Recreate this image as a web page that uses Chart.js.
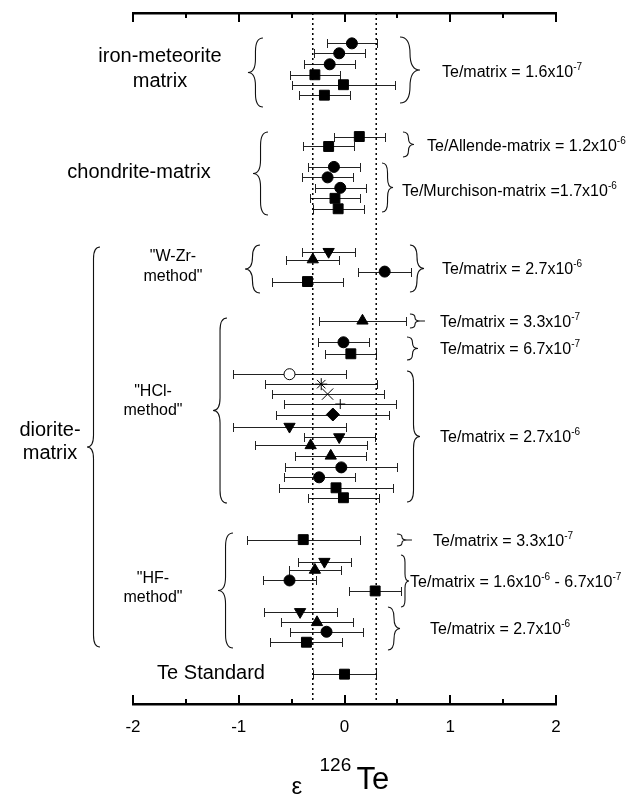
<!DOCTYPE html>
<html>
<head>
<meta charset="utf-8">
<script src="https://cdn.jsdelivr.net/npm/chart.js@4.4.0/dist/chart.umd.min.js"></script>
<style>
html, body { margin: 0; padding: 0; background: #fff; }
#wrap { width: 642px; height: 796px; }
</style>
</head>
<body>
<div id="wrap"><canvas id="grafico" width="642" height="796"></canvas></div>
<script>
// one entry per measurement, top to bottom (row = vertical slot on the hidden y scale)
const rowPos = [2.9, 3.85, 4.9, 5.9, 6.85, 7.85,
                11.8, 12.75, 14.7, 15.7, 16.7, 17.7, 18.7,
                22.8, 23.55, 24.7, 25.65,
                29.4, 31.45, 32.55, 34.5, 35.45, 36.4, 37.35, 38.35, 39.5, 40.5, 41.3, 42.3, 43.4, 44.35, 45.35, 46.3,
                50.3, 52.4, 53.2, 54.2, 55.2, 57.2, 58.2, 59.1, 60.1,
                63.15];
const epsilon = [0.07, -0.05, -0.14, -0.28, -0.01, -0.19,
                 0.14, -0.15, -0.10, -0.16, -0.04, -0.09, -0.06,
                 -0.15, -0.30, 0.38, -0.35,
                 0.17, -0.01, 0.06, -0.52, -0.22, -0.16, -0.04, -0.11, -0.52, -0.05, -0.32, -0.13, -0.03, -0.24, -0.08, -0.01,
                 -0.39, -0.19, -0.28, -0.52, 0.29, -0.42, -0.26, -0.17, -0.36,
                 0.0];
const epsErr = [0.24, 0.24, 0.24, 0.24, 0.49, 0.24,
                0.24, 0.24, 0.245, 0.24, 0.24, 0.24, 0.24,
                0.25, 0.25, 0.25, 0.34,
                0.41, 0.24, 0.24, 0.53, 0.53, 0.53, 0.53, 0.535, 0.53, 0.335, 0.53, 0.335, 0.53, 0.335, 0.535, 0.335,
                0.535, 0.25, 0.245, 0.25, 0.245, 0.345, 0.34, 0.345, 0.34,
                0.30];
const markers = ['circle', 'circle', 'circle', 'square', 'square', 'square',
                 'square', 'square', 'circle', 'circle', 'circle', 'square', 'square',
                 'down', 'up', 'circle', 'square',
                 'up', 'circle', 'square', 'open', 'star', 'cross', 'plus', 'diamond', 'down', 'down', 'up', 'up', 'circle', 'circle', 'square', 'square',
                 'square', 'down', 'up', 'circle', 'square', 'down', 'up', 'circle', 'square',
                 'square'];
const refLines = [-0.3, 0.3];
const xMin = -2, xMax = 2, xStep = 1;
const rowMin = 0, rowMax = 66;

// group names on the left (x in epsilon units, y in row units)
const leftLabels = [
    { text: 'iron-meteorite', x: -1.745, y: 4.2, size: 20 },
    { text: 'matrix', x: -1.745, y: 6.5, size: 20 },
    { text: 'chondrite-matrix', x: -1.943, y: 15.28, size: 20 },
    { text: '"W-Zr-', x: -1.622, y: 23.3, size: 16 },
    { text: 'method"', x: -1.622, y: 25.2, size: 16 },
    { text: '"HCl-', x: -1.811, y: 36.2, size: 16 },
    { text: 'method"', x: -1.811, y: 38.0, size: 16 },
    { text: '"HF-', x: -1.811, y: 54.06, size: 16 },
    { text: 'method"', x: -1.811, y: 55.87, size: 16 },
    { text: 'diorite-', x: -2.785, y: 39.92, size: 20 },
    { text: 'matrix', x: -2.785, y: 42.12, size: 20 },
    { text: 'Te Standard', x: -1.262, y: 63.13, size: 20 }
];

// Te/matrix notes on the right (left edge x, middle y); second item of each part = superscript
const rightLabels = [
    { x: 0.922, y: 5.54, parts: [['Te/matrix = 1.6x10', 0], ['-7', 1]] },
    { x: 0.780, y: 12.61, parts: [['Te/Allende-matrix = 1.2x10', 0], ['-6', 1]] },
    { x: 0.544, y: 16.91, parts: [['Te/Murchison-matrix =1.7x10', 0], ['-6', 1]] },
    { x: 0.922, y: 24.36, parts: [['Te/matrix = 2.7x10', 0], ['-6', 1]] },
    { x: 0.903, y: 29.42, parts: [['Te/matrix = 3.3x10', 0], ['-7', 1]] },
    { x: 0.903, y: 32.0, parts: [['Te/matrix = 6.7x10', 0], ['-7', 1]] },
    { x: 0.903, y: 40.4, parts: [['Te/matrix = 2.7x10', 0], ['-6', 1]] },
    { x: 0.837, y: 50.33, parts: [['Te/matrix = 3.3x10', 0], ['-7', 1]] },
    { x: 0.620, y: 54.25, parts: [['Te/matrix = 1.6x10', 0], ['-6', 1], [' - 6.7x10', 0], ['-7', 1]] },
    { x: 0.809, y: 58.74, parts: [['Te/matrix = 2.7x10', 0], ['-6', 1]] }
];

// curly braces: back = flat side, tip = pointed side
const braces = [
    { back: -0.771, tip: -0.913, top: 2.39, bottom: 8.98 },
    { back: -0.723, tip: -0.865, top: 11.37, bottom: 19.29 },
    { back: -0.799, tip: -0.941, top: 22.16, bottom: 26.74 },
    { back: -1.111, tip: -1.243, top: 29.13, bottom: 46.8 },
    { back: -1.054, tip: -1.196, top: 49.67, bottom: 60.65 },
    { back: -2.312, tip: -2.435, top: 22.35, bottom: 60.55 },
    { back: 0.525, tip: 0.714, top: 2.29, bottom: 8.6 },
    { back: 0.553, tip: 0.657, top: 11.37, bottom: 13.75 },
    { back: 0.355, tip: 0.459, top: 14.33, bottom: 19.01 },
    { back: 0.619, tip: 0.752, top: 22.16, bottom: 26.65 },
    { back: 0.619, tip: 0.714, top: 28.75, bottom: 30.09, tail: 0.761 },
    { back: 0.591, tip: 0.695, top: 30.95, bottom: 33.14 },
    { back: 0.591, tip: 0.714, top: 34.19, bottom: 46.7 },
    { back: 0.496, tip: 0.591, top: 49.76, bottom: 50.91, tail: 0.638 },
    { back: 0.534, tip: 0.610, top: 51.77, bottom: 56.73 },
    { back: 0.411, tip: 0.525, top: 56.73, bottom: 60.84 }
];

const FONTE = '"Liberation Sans", Arial, Helvetica, sans-serif';

const estilos = {
    circle:  { style: 'circle',   radius: 5.5, rotation: 0,   fill: '#000' },
    square:  { style: 'rect',     radius: 7,   rotation: 0,   fill: '#000' },
    up:      { style: 'triangle', radius: 6.5, rotation: 0,   fill: '#000' },
    down:    { style: 'triangle', radius: 6.5, rotation: 180, fill: '#000' },
    diamond: { style: 'rectRot',  radius: 6.5, rotation: 0,   fill: '#000' },
    open:    { style: 'circle',   radius: 5.5, rotation: 0,   fill: '#fff' },
    star:    { style: 'star',     radius: 6,   rotation: 0,   fill: '#000' },
    cross:   { style: 'crossRot', radius: 8,   rotation: 0,   fill: '#000' },
    plus:    { style: 'cross',    radius: 5,   rotation: 0,   fill: '#000' }
};

// draws a curly brace between yTop and yBot, pointing from xBack to xTip
function chave(ctx, xBack, xTip, yTop, yBot, xTail) {
    const w = xTip - xBack;
    const meio = xBack + w / 2;
    const ym = (yTop + yBot) / 2;
    const c = Math.min(Math.abs(w) * 0.9, (yBot - yTop) / 4);
    ctx.beginPath();
    ctx.moveTo(xBack, yTop);
    ctx.quadraticCurveTo(meio, yTop, meio, yTop + c);
    ctx.lineTo(meio, ym - c);
    ctx.quadraticCurveTo(meio, ym, xTip, ym);
    ctx.quadraticCurveTo(meio, ym, meio, ym + c);
    ctx.lineTo(meio, yBot - c);
    ctx.quadraticCurveTo(meio, yBot, xBack, yBot);
    if (xTail !== undefined) {
        ctx.moveTo(xTip, ym);
        ctx.lineTo(xTail, ym);
    }
    ctx.stroke();
}

// text with superscript pieces, left aligned, y = middle of the line
function textoSobrescrito(ctx, x, y, parts, size) {
    const base = y + size * 0.36;
    ctx.textBaseline = 'alphabetic';
    ctx.textAlign = 'left';
    parts.forEach(([txt, sup]) => {
        const s = sup ? Math.round(size * 0.62) : size;
        ctx.font = s + 'px ' + FONTE;
        ctx.fillText(txt, x, sup ? base - size * 0.42 : base);
        x += ctx.measureText(txt).width;
    });
}

const barrasErro = {
    id: 'barrasErro',
    beforeDatasetsDraw(chart) {
        const { ctx, scales: { x, y } } = chart;
        ctx.save();
        ctx.strokeStyle = '#222';
        ctx.lineWidth = 1;
        rowPos.forEach((r, i) => {
            const py = Math.round(y.getPixelForValue(r)) + 0.5;
            const x1 = Math.round(x.getPixelForValue(epsilon[i] - epsErr[i])) + 0.5;
            const x2 = Math.round(x.getPixelForValue(epsilon[i] + epsErr[i])) + 0.5;
            ctx.beginPath();
            ctx.moveTo(x1, py); ctx.lineTo(x2, py);
            ctx.moveTo(x1, py - 4.5); ctx.lineTo(x1, py + 4.5);
            ctx.moveTo(x2, py - 4.5); ctx.lineTo(x2, py + 4.5);
            ctx.stroke();
        });
        ctx.restore();
    }
};

const anotacoes = {
    id: 'anotacoes',
    afterDraw(chart) {
        const { ctx, chartArea, scales: { x, y } } = chart;
        ctx.save();

        // inward tick marks on both horizontal axes
        ctx.strokeStyle = '#000';
        ctx.lineWidth = 2;
        ctx.beginPath();
        for (let v = xMin; v <= xMax + 1e-9; v += xStep / 2) {
            const px = Math.round(x.getPixelForValue(v));
            const len = Number.isInteger(v) ? 9 : 5;
            ctx.moveTo(px, chartArea.bottom); ctx.lineTo(px, chartArea.bottom - len);
            ctx.moveTo(px, chartArea.top); ctx.lineTo(px, chartArea.top + len);
        }
        ctx.stroke();

        // braces
        ctx.strokeStyle = '#111';
        ctx.lineWidth = 1.1;
        braces.forEach(b => {
            chave(ctx, x.getPixelForValue(b.back), x.getPixelForValue(b.tip),
                  y.getPixelForValue(b.top), y.getPixelForValue(b.bottom),
                  b.tail !== undefined ? x.getPixelForValue(b.tail) : undefined);
        });

        // group names
        ctx.fillStyle = '#000';
        ctx.textAlign = 'center';
        ctx.textBaseline = 'middle';
        leftLabels.forEach(l => {
            ctx.font = l.size + 'px ' + FONTE;
            ctx.fillText(l.text, x.getPixelForValue(l.x), y.getPixelForValue(l.y));
        });

        // Te/matrix notes
        rightLabels.forEach(l => {
            textoSobrescrito(ctx, x.getPixelForValue(l.x), y.getPixelForValue(l.y), l.parts, 16);
        });

        // axis title: epsilon 126Te
        const cx = x.getPixelForValue(0);
        const b = chartArea.bottom;
        ctx.textAlign = 'left';
        ctx.textBaseline = 'alphabetic';
        ctx.font = '24px ' + FONTE;
        ctx.fillText('ε', cx - 53, b + 90);
        ctx.font = '19px ' + FONTE;
        ctx.fillText('126', cx - 25, b + 67);
        ctx.font = '31px ' + FONTE;
        ctx.fillText('Te', cx + 12, b + 85);

        ctx.restore();
    }
};

const pontos = rowPos.map((r, i) => ({ x: epsilon[i], y: r }));

const datasets = [{
    type: 'scatter',
    label: 'ε126Te',
    data: pontos,
    order: 0,
    pointStyle: markers.map(m => estilos[m].style),
    pointRadius: markers.map(m => estilos[m].radius),
    pointRotation: markers.map(m => estilos[m].rotation),
    pointBackgroundColor: markers.map(m => estilos[m].fill),
    pointBorderColor: '#000',
    pointBorderWidth: 1,
    showLine: false
}];

refLines.forEach(v => {
    datasets.push({
        type: 'line',
        label: 'ref ' + v,
        data: [{ x: v, y: rowMin }, { x: v, y: rowMax }],
        order: 2,
        borderColor: '#000',
        borderWidth: 1.5,
        borderDash: [2, 3],
        pointRadius: 0,
        fill: false
    });
});

new Chart(document.getElementById('grafico'), {
    type: 'scatter',
    data: { datasets: datasets },
    options: {
        responsive: false,
        animation: false,
        devicePixelRatio: 1,
        layout: { padding: { left: 133, right: 86, top: 13, bottom: 0 } },
        plugins: {
            legend: { display: false },
            tooltip: { enabled: false }
        },
        scales: {
            x: {
                type: 'linear',
                position: 'bottom',
                min: xMin,
                max: xMax,
                afterFit: s => { s.height = 92; },
                ticks: {
                    stepSize: xStep,
                    color: '#000',
                    padding: 13,
                    font: { family: FONTE, size: 17 },
                    callback: v => String(v)
                },
                grid: { display: false, drawTicks: false },
                border: { display: true, color: '#000', width: 2.5 }
            },
            xTop: {
                type: 'linear',
                position: 'top',
                min: xMin,
                max: xMax,
                afterFit: s => { s.height = 0; },
                ticks: { display: false },
                grid: { display: false, drawTicks: false },
                border: { display: true, color: '#000', width: 2.5 }
            },
            y: {
                type: 'linear',
                min: rowMin,
                max: rowMax,
                reverse: true,
                display: false
            }
        }
    },
    plugins: [barrasErro, anotacoes]
});
</script>
</body>
</html>
